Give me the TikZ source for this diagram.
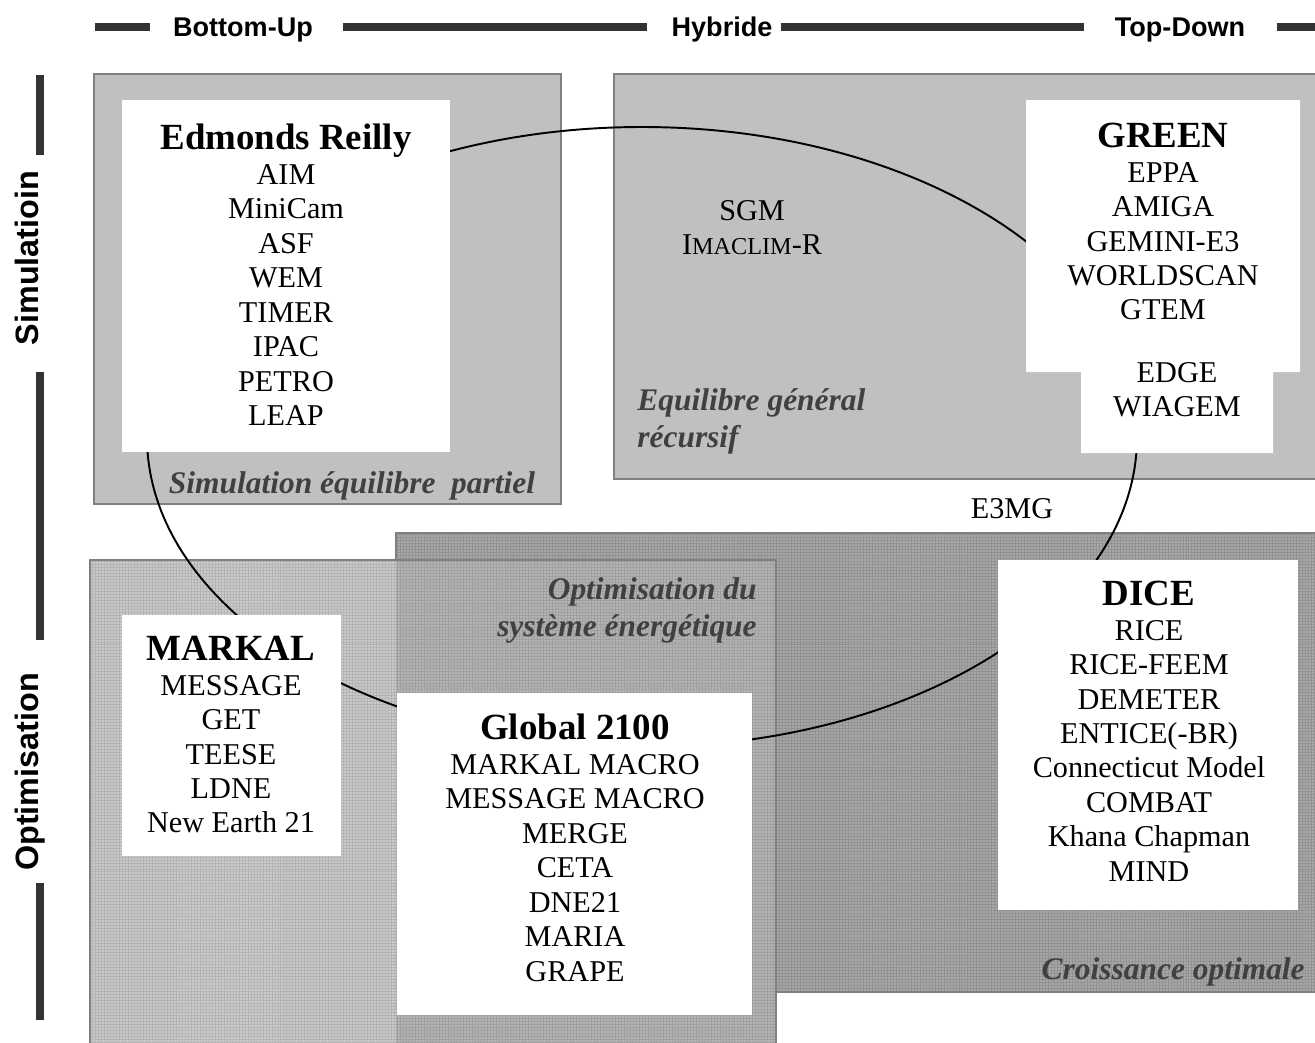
\documentclass[tikz,border=0pt]{standalone}
\usepackage{fontspec}
\setmainfont{Liberation Serif}
\setsansfont{Liberation Sans}
\usetikzlibrary{patterns.meta}

\definecolor{grisboite}{HTML}{C0C0C0}
\definecolor{grisbord}{HTML}{808080}
\definecolor{grisclair}{HTML}{CACACA}
\definecolor{trclair}{HTML}{B4B4B4}
\definecolor{grismoyen}{HTML}{B4B4B4}
\definecolor{trmoyen}{HTML}{A0A0A0}
\definecolor{grisfonce}{HTML}{A8A8A8}
\definecolor{trfonce}{HTML}{929292}
\definecolor{grisetiq}{HTML}{404040}
\definecolor{barrecol}{HTML}{333333}

\newcommand\titrebloc{\fontsize{21}{19.6}\selectfont\bfseries}

\begin{document}
\begin{tikzpicture}[
    x=0.02cm, y=-0.02cm,
    zone/.style={fill=grisboite, draw=grisbord, line width=0.9pt},
    trame/.style 2 args={preaction={fill=#1}, pattern={Hatch[angle=0,distance=1.7pt,line width=0.3pt]},
                         pattern color=#2},
    liste/.style={align=center, inner sep=0pt, font=\fontsize{17.2}{19.6}\selectfont},
    etiq/.style={inner sep=0pt, text=grisetiq, font=\fontsize{17.9}{21}\selectfont\bfseries\itshape},
    axe/.style={inner sep=0pt, font=\fontsize{15.4}{18}\selectfont\sffamily\bfseries},
    barre/.style={line width=4pt, barrecol}
]
\clip (0,0) rectangle (1315,1042);

% Axes
\node[axe, anchor=base] (bottomup) at (243,36) {Bottom-Up};
\node[axe, anchor=base] (hybride) at (722,36) {Hybride};
\node[axe, anchor=base] (topdown) at (1180,36) {Top-Down};
\draw[barre] (95,27) -- (150,27);
\draw[barre] (343,27) -- (647,27);
\draw[barre] (781,27) -- (1084,27);
\draw[barre] (1277,27) -- (1320,27);

\node[axe, font=\fontsize{18.4}{20}\selectfont\sffamily\bfseries, anchor=base, rotate=90] (simulation) at (38,258) {Simulatioin};
\node[axe, font=\fontsize{18.4}{20}\selectfont\sffamily\bfseries, anchor=base, rotate=90] (optimisation) at (38,772) {Optimisation};
\draw[barre] (40,75) -- (40,155);
\draw[barre] (40,372) -- (40,640);
\draw[barre] (40,883) -- (40,1020);

% Zones
\path[zone] (94,74) rectangle (561,504);
\path[zone] (614,74) rectangle (1330,479);
\path[trame={grisfonce}{trfonce}, draw=grisbord, line width=0.9pt] (396,533) rectangle (1330,992);
\path[trame={grisclair}{trclair}] (90,560) rectangle (776,1060);
\path[trame={grismoyen}{trmoyen}] (396,560) rectangle (776,1060);
\draw[grisbord, line width=0.9pt] (90,560) rectangle (776,1060);

% Ellipse
\coordinate (centre) at (642,437);
\draw[line width=1.1pt] (centre) ellipse [x radius=495, y radius=310];

% Boites blanches
\fill[white] (122,100) rectangle (450,452);
\fill[white] (1026,100) -- (1300,100) -- (1300,372) -- (1273,372) -- (1273,453)
   -- (1081,453) -- (1081,372) -- (1026,372) -- cycle;
\fill[white] (122,615) rectangle (341,856);
\fill[white] (397,693) rectangle (752,1015);
\fill[white] (998,560) rectangle (1298,910);

% Modeles
\node[liste, anchor=north] (edmonds) at (286,124)
  {{\titrebloc Edmonds Reilly}\\AIM\\MiniCam\\ASF\\WEM\\TIMER\\IPAC\\PETRO\\LEAP};
\node[liste, anchor=north] (green) at (1163,123)
  {{\titrebloc GREEN}\\EPPA\\AMIGA\\GEMINI-E3\\WORLDSCAN\\GTEM};
\node[liste, anchor=north] (edge) at (1177,362) {EDGE\\WIAGEM};
\node[liste, anchor=north] (sgm) at (752,200)
  {SGM\\I{\fontsize{13.8}{19.6}\selectfont MACLIM}-R};
\node[liste, anchor=base] (e3mg) at (1012,518) {E3MG};
\node[liste, anchor=north] (markal) at (231,636)
  {{\titrebloc MARKAL}\\MESSAGE\\GET\\TEESE\\LDNE\\New Earth 21};
\node[liste, anchor=north] (global) at (575,714)
  {{\titrebloc Global 2100}\\MARKAL MACRO\\MESSAGE MACRO\\MERGE\\CETA\\DNE21\\MARIA\\GRAPE};
\node[liste, anchor=north] (dice) at (1149,581)
  {{\titrebloc DICE}\\RICE\\RICE-FEEM\\DEMETER\\ENTICE(-BR)\\Connecticut Model\\COMBAT\\Khana Chapman\\MIND};

% Familles
\node[etiq, anchor=base] (partiel) at (352,493) {Simulation équilibre\ \ partiel};
\node[etiq, anchor=north west, align=left] (recursif) at (637,388) {Equilibre général\\récursif};
\node[etiq, anchor=north east, align=right] (energie) at (757,577) {Optimisation du\\système énergétique};
\node[etiq, anchor=base east] (croissance) at (1305,979) {Croissance optimale};

\end{tikzpicture}
\end{document}
